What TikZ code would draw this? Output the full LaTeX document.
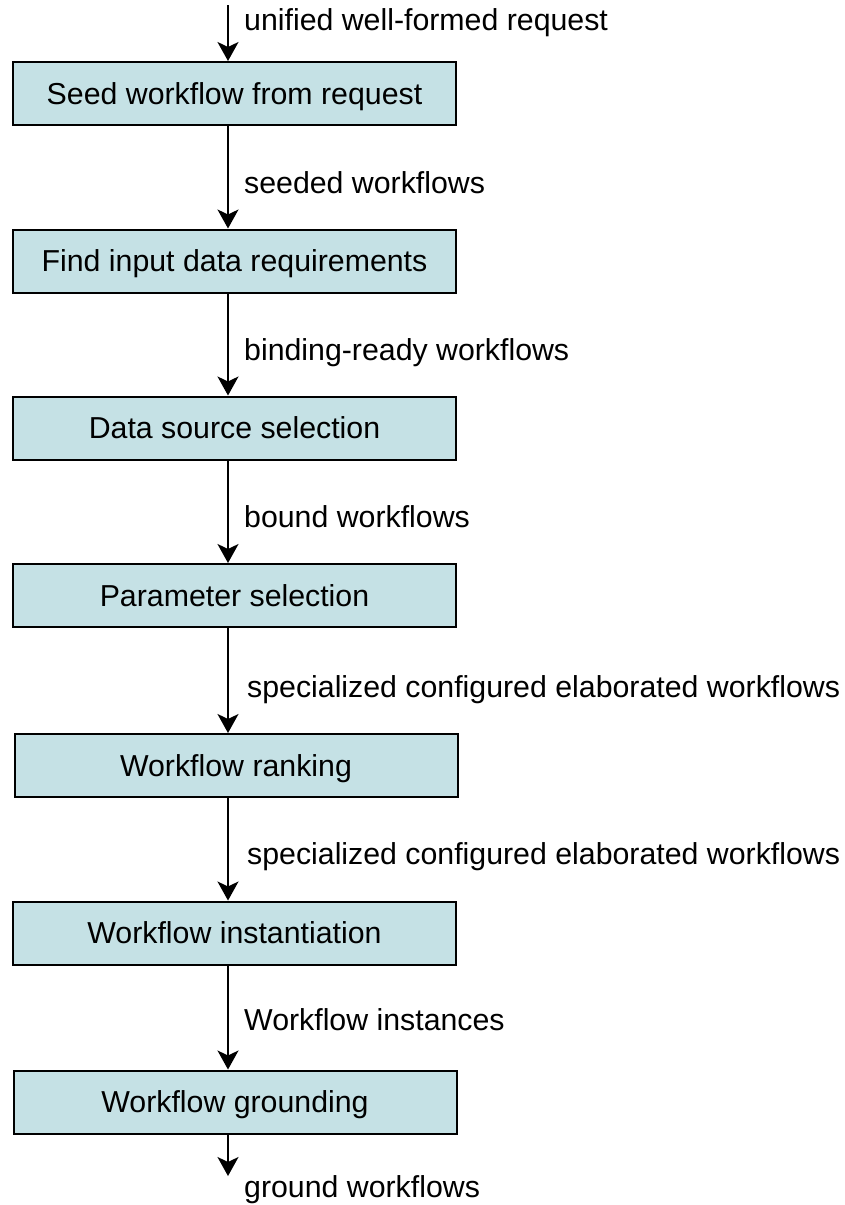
\documentclass[tikz,border=0pt]{standalone}
\usepackage{fontspec}
\setmainfont{Liberation Sans}
\usetikzlibrary{arrows.meta}
\definecolor{boxfill}{RGB}{197,225,229}
\begin{document}
\begin{tikzpicture}[x=1pt,y=-1pt,
  stage/.style={draw=black,line width=2pt,fill=boxfill,minimum width=443pt,minimum height=63pt,inner sep=0pt,
    font=\fontsize{30.3}{36}\selectfont,text height=21.6pt,text depth=0pt},
  lbl/.style={anchor=base west,inner sep=0pt,font=\fontsize{30.3}{36}\selectfont},
  arr/.style={line width=2pt,-{Stealth[length=19pt,width=21pt,inset=5pt]}}]
\useasboundingbox (0,0) rectangle (845,1205);
\coordinate (ax) at (228,0);
\node[stage] (b1) at (234.5,93.5) {Seed workflow from request};
\node[stage] (b2) at (234.5,261) {Find input data requirements};
\node[stage] (b3) at (234.5,428) {Data source selection};
\node[stage] (b4) at (234.5,595.5) {Parameter selection};
\node[stage] (b5) at (236,765.5) {Workflow ranking};
\node[stage] (b6) at (234.5,933) {Workflow instantiation};
\node[stage] (b7) at (235,1102) {Workflow grounding};
\coordinate (start) at (228,5);
\coordinate (end) at (228,1176);
\draw[arr] (start) -- (b1.north -| ax);
\draw[arr] (b1.south -| ax) -- (b2.north -| ax);
\draw[arr] (b2.south -| ax) -- (b3.north -| ax);
\draw[arr] (b3.south -| ax) -- (b4.north -| ax);
\draw[arr] (b4.south -| ax) -- (b5.north -| ax);
\draw[arr] (b5.south -| ax) -- (b6.north -| ax);
\draw[arr] (b6.south -| ax) -- (b7.north -| ax);
\draw[arr] (b7.south -| ax) -- (end);
\node[lbl] (l0) at (244,30) {unified well-formed request};
\node[lbl] (l1) at (244,193) {seeded workflows};
\node[lbl] (l2) at (244,360) {binding-ready workflows};
\node[lbl] (l3) at (244,527) {bound workflows};
\node[lbl] (l4) at (247,697) {specialized configured elaborated workflows};
\node[lbl] (l5) at (247,864) {specialized configured elaborated workflows};
\node[lbl] (l6) at (244,1030) {Workflow instances};
\node[lbl] (l7) at (244,1197) {ground workflows};
\end{tikzpicture}
\end{document}
